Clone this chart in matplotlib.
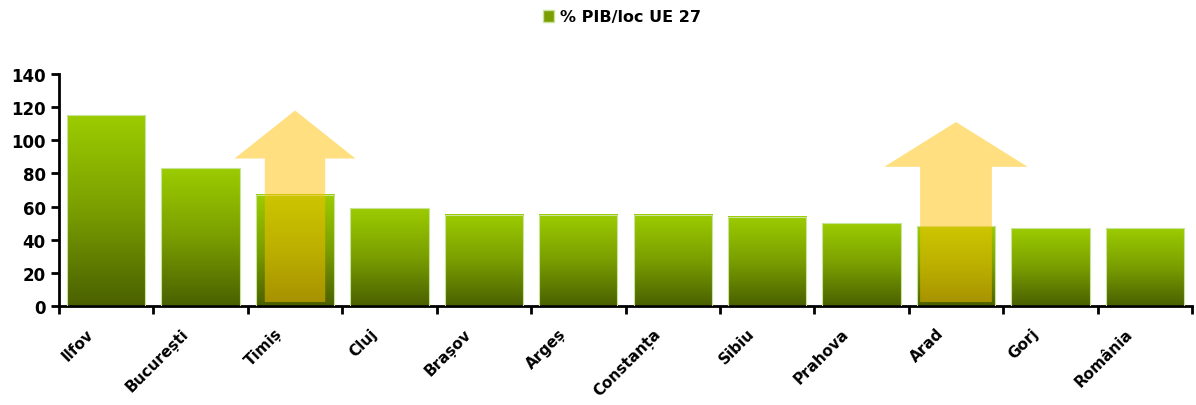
import numpy as np
import matplotlib
matplotlib.use('Agg')
import matplotlib.pyplot as plt
import matplotlib.transforms as mtransforms
from matplotlib.colors import LinearSegmentedColormap
from matplotlib.patches import Polygon, Patch

# date
judete = ['Ilfov', 'București', 'Timiș', 'Cluj', 'Brașov', 'Argeș', 'Constanța',
          'Sibiu', 'Prahova', 'Arad', 'Gorj', 'România']
pib_ue27 = [115, 83, 67, 59, 55, 55, 55, 54, 50, 48, 47, 47]
serie = '% PIB/loc UE 27'
# sagetile: (index judet, varf, baza capului)
sageti = [(2, 118, 89), (9, 111, 84)]

plt.rcParams['font.family'] = ['DejaVu Sans']
fig = plt.figure(figsize=(11.96, 4.06), dpi=100)
ax = fig.add_axes([0.0493, 0.2438, 0.9474, 0.5715])

cmap = LinearSegmentedColormap.from_list('verde', ['#4A6000', '#7A9E00', '#9CCC00'])
grad = np.linspace(0, 1, 256).reshape(-1, 1)
w = 0.83
x = np.arange(len(judete))
for i, v in zip(x, pib_ue27):
    ax.imshow(grad, extent=[i - w / 2, i + w / 2, 0, v], origin='lower', cmap=cmap,
              aspect='auto', zorder=2)
    ax.bar(i, v, width=w, facecolor='none', edgecolor='#C8E49A', linewidth=0.8, zorder=3)

# sageti galbene
for idx, varf, baza in sageti:
    sw = 0.32 if idx == 2 else 0.38
    hw = 0.64 if idx == 2 else 0.76
    pts = [(idx - sw, 2.4), (idx + sw, 2.4), (idx + sw, baza), (idx + hw, baza),
           (idx, varf), (idx - hw, baza), (idx - sw, baza)]
    ax.add_patch(Polygon(pts, closed=True, facecolor='#FFC000', alpha=0.5,
                         edgecolor='none', zorder=4))

ax.set_xlim(-0.5, len(judete) - 0.5)
ax.set_ylim(0, 140)
ax.set_yticks(np.arange(0, 141, 20))
ax.set_xticks(np.arange(-0.5, len(judete), 1))
ax.set_xticklabels([])
ax.set_xticks(x, minor=True)
ax.set_xticklabels(judete, minor=True, rotation=45, ha='right', rotation_mode='anchor',
                   fontsize=11, fontweight='bold')
ax.tick_params(axis='x', which='minor', length=0, pad=14)
ax.tick_params(axis='x', which='major', length=6, width=2, direction='out')
ax.tick_params(axis='y', length=6, width=2, labelsize=12)
for t in ax.get_yticklabels():
    t.set_fontweight('bold')
offset = mtransforms.ScaledTranslation(-0.2, 0, fig.dpi_scale_trans)
for t in ax.get_xticklabels(minor=True):
    t.set_transform(t.get_transform() + offset)

for s in ['top', 'right']:
    ax.spines[s].set_visible(False)
for s in ['left', 'bottom']:
    ax.spines[s].set_linewidth(2)

fig.legend(handles=[Patch(facecolor='#7A9E00', edgecolor='#C8E49A')], labels=[serie],
           loc='upper center', bbox_to_anchor=(0.52, 1.01), frameon=False,
           prop={'weight': 'bold', 'size': 11.5}, handlelength=0.7, handleheight=0.8,
           handletextpad=0.4)

fig.savefig('out.png', dpi=100)
